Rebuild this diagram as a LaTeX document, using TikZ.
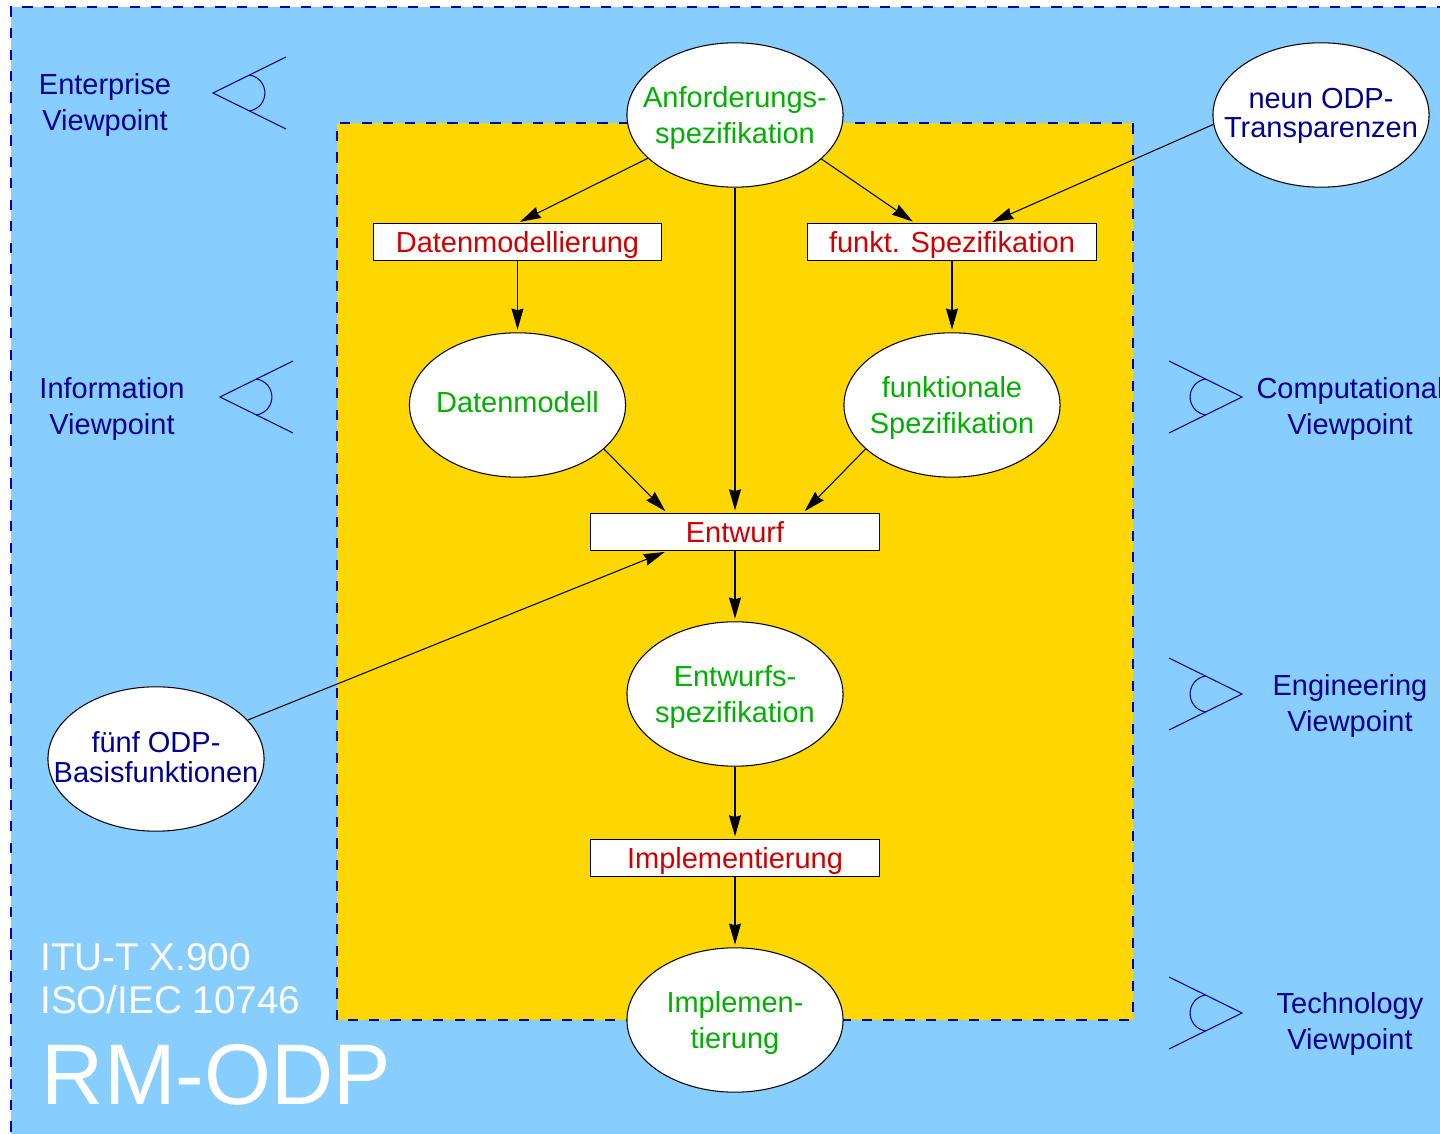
\documentclass[tikz,border=0pt]{standalone}
\usepackage{fontspec}
\setmainfont{Liberation Sans}
\usetikzlibrary{arrows.meta,calc,shapes.geometric}
\definecolor{skyback}{HTML}{87CEFF}
\definecolor{goldback}{HTML}{FFD700}
\definecolor{darkblue}{HTML}{00008F}
\definecolor{dashblue}{HTML}{0000C0}
\definecolor{darkgreen}{HTML}{00B000}
\definecolor{darkred}{HTML}{D00000}
\tikzset{
	dashframe/.style={draw=dashblue, line width=0.6pt, dash pattern=on 5.8pt off 6.4pt},
	blobnode/.style={draw=black, fill=white, ellipse, line width=0.6pt, inner xsep=-25pt, inner ysep=-5pt, minimum width=123pt, minimum height=82.2pt, align=center, font=\fontsize{16.5}{20.4}\selectfont},
	worknode/.style={blobnode, text=darkgreen, text depth=-1.1pt},
	noticenode/.style={blobnode, text=darkblue, text depth=2.2pt, font=\fontsize{16.5}{16.6}\selectfont},
	stepbox/.style={draw=black, fill=white, line width=0.6pt, inner sep=0pt, minimum width=164.4pt, minimum height=21pt, text=darkred, text height=11.8pt, text depth=0pt, font=\fontsize{16.5}{20.4}\selectfont},
	viewlabel/.style={text=darkblue, align=center, text depth=0pt, font=\fontsize{16.5}{20.4}\selectfont},
	flow/.style={line width=0.6pt, -{Stealth[length=12pt, width=6.8pt, inset=1pt]}, shorten >=1.5pt},
	eyeline/.style={draw=darkblue, line width=0.6pt}
}
\def\vieweye(#1)(#2){\draw[eyeline, shift={(#1)}, xscale=#2] (73,36) -- (0,0) -- (73,-36);
	\draw[eyeline, shift={(#1)}, xscale=#2] (36,18) arc (83:-83:18.1);}

\begin{document}
\begin{tikzpicture}[x=0.02cm, y=0.02cm]
		%%%%% BACKGROUND %%%%%
		\useasboundingbox (0,0) rectangle (1440,1133);
		\fill[skyback] (11,-20) rectangle (1470,1126);
		\draw[dashframe] (11,-20) rectangle (1470,1126);
		\fill[goldback] (337,113) rectangle (1133,1010);
		\draw[dashframe] (337,113) rectangle (1133,1010);
		
		%%%%% NODES %%%%%
		\node[worknode] (anf) at (735,1018) {Anforderungs-\\spezifikation};
		\node[noticenode] (transp) at (1321,1018) {neun ODP-\\Transparenzen};
		\node[stepbox] (dmod) at (517.5,891) {Datenmodellierung};
		\node[stepbox] (fspec) at (952,891) {funkt. Spezifikation};
		\node[worknode, text depth=3.4pt] (daten) at (517.5,728) {Datenmodell};
		\node[worknode] (funk) at (952,728) {funktionale\\Spezifikation};
		\node[stepbox] (entw) at (735,601) {Entwurf};
		\node[worknode] (entspez) at (735,439) {Entwurfs-\\spezifikation};
		\node[noticenode] (basis) at (156,374) {fünf ODP-\\Basisfunktionen};
		\node[stepbox] (impl) at (735,275) {Implementierung};
		\node[worknode] (implem) at (735,113) {Implemen-\\tierung};
		
		%%%%% ARROWS %%%%%
		\draw[flow] (anf) -- (dmod.north);
		\draw[flow] (anf.-27) -- ($(fspec.north west)!0.372!(fspec.north east)$);
		\draw[flow] (transp.185) -- ($(fspec.north west)!0.631!(fspec.north east)$);
		\draw[flow] (dmod) -- (daten);
		\draw[flow] (fspec) -- (funk);
		\draw[flow] (anf) -- (entw);
		\draw[flow] (daten.-27) -- ($(entw.north west)!0.266!(entw.north east)$);
		\draw[flow] (funk.207) -- ($(entw.north west)!0.734!(entw.north east)$);
		\draw[flow] (basis.23) -- ($(entw.south west)!0.266!(entw.south east)$);
		\draw[flow] (entw) -- (entspez);
		\draw[flow] (entspez) -- (impl);
		\draw[flow] (impl) -- (implem);
		
		%%%%% VIEWPOINTS %%%%%
		\node[viewlabel] (enterprise) at (105,1031) {Enterprise\\Viewpoint};
		\node[viewlabel] (information) at (112,727) {Information\\Viewpoint};
		\node[viewlabel] (computational) at (1350,727) {Computational\\Viewpoint};
		\node[viewlabel] (engineering) at (1350,430) {Engineering\\Viewpoint};
		\node[viewlabel] (technology) at (1350,112) {Technology\\Viewpoint};
		\vieweye(213,1040)(1)
		\vieweye(220,736)(1)
		\vieweye(1242,736)(-1)
		\vieweye(1242,439)(-1)
		\vieweye(1242,120)(-1)
		
		%%%%% TITLE %%%%%
		\node[text=white, anchor=west, align=left, inner sep=0pt, font=\fontsize{22}{24.4}\selectfont] (standard) at (40,154) {ITU-T X.900\\ISO/IEC 10746};
		\node[text=white, anchor=west, inner sep=0pt, font=\fontsize{49}{50}\selectfont] (title) at (41.5,58) {RM-ODP};
		%%%%% END %%%%%
	\end{tikzpicture}
\end{document}
